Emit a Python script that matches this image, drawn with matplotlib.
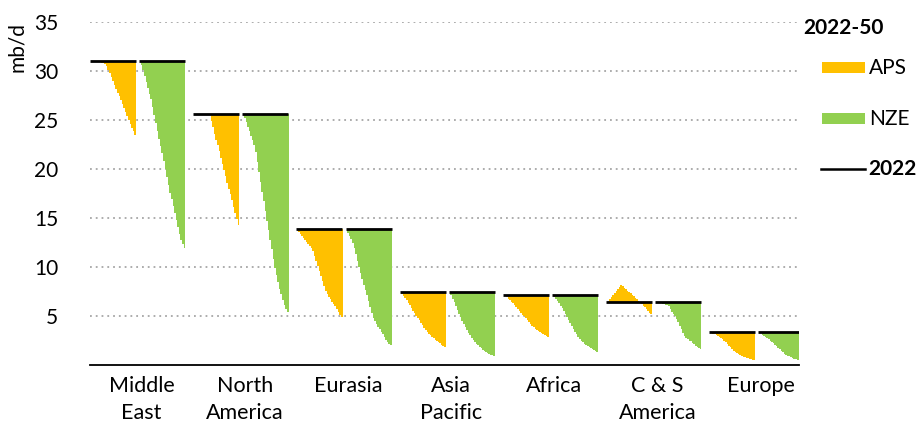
import numpy as np
import matplotlib
matplotlib.use('Agg')
import matplotlib.pyplot as plt
from matplotlib.patches import Rectangle
from matplotlib.lines import Line2D

plt.rcParams['font.family'] = ['Lato', 'DejaVu Sans']

# regions and 2022 production level (mb/d)
regions = ['Middle\nEast', 'North\nAmerica', 'Eurasia', 'Asia\nPacific', 'Africa', 'C & S\nAmerica', 'Europe']
level_2022 = [31.0, 25.6, 13.85, 7.45, 7.1, 6.4, 3.33]

# yearly production 2022-2050, APS
aps = [
    [31.0, 31.0, 30.98, 30.95, 30.92, 30.9, 30.88, 30.86, 30.82, 30.7, 30.5, 30.15, 29.8, 29.4, 29.0,
     28.6, 28.2, 27.8, 27.4, 27.0, 26.6, 26.2, 25.8, 25.4, 25.0, 24.6, 24.2, 23.85, 23.5],
    [25.6, 25.6, 25.6, 25.6, 25.6, 25.6, 25.6, 25.6, 25.6, 25.55, 25.5, 24.9, 24.3, 23.6, 23.0,
     22.4, 21.8, 21.1, 20.5, 19.9, 19.3, 18.6, 18.0, 17.4, 16.8, 16.1, 15.5, 14.9, 14.3],
    [13.85, 13.6, 13.4, 13.2, 13.0, 12.8, 12.55, 12.35, 12.1, 11.9, 11.6, 11.1, 10.6, 10.1, 9.6,
     9.1, 8.6, 8.1, 7.6, 7.2, 6.9, 6.7, 6.4, 6.2, 6.0, 5.7, 5.4, 5.15, 4.9],
    [7.45, 7.25, 7.0, 6.8, 6.6, 6.35, 6.1, 5.85, 5.55, 5.3, 5.05, 4.8, 4.55, 4.3, 4.05,
     3.8, 3.6, 3.4, 3.2, 3.05, 2.9, 2.75, 2.6, 2.45, 2.3, 2.2, 2.05, 1.95, 1.85],
    [7.1, 7.0, 6.9, 6.75, 6.6, 6.45, 6.3, 6.1, 5.95, 5.75, 5.55, 5.35, 5.15, 4.95, 4.75,
     4.55, 4.35, 4.15, 4.0, 3.85, 3.7, 3.6, 3.5, 3.4, 3.3, 3.2, 3.1, 3.0, 2.9],
    [6.4, 6.55, 6.75, 6.95, 7.15, 7.35, 7.55, 7.75, 7.95, 8.15, 8.05, 7.9, 7.75, 7.6, 7.45,
     7.3, 7.15, 7.0, 6.85, 6.7, 6.55, 6.4, 6.25, 6.05, 5.9, 5.7, 5.55, 5.35, 5.2],
    [3.33, 3.28, 3.2, 3.13, 3.06, 2.98, 2.88, 2.76, 2.62, 2.47, 2.3, 2.13, 1.96, 1.8, 1.63,
     1.47, 1.32, 1.19, 1.1, 1.01, 0.93, 0.86, 0.8, 0.75, 0.7, 0.65, 0.6, 0.55, 0.5],
]

# yearly production 2022-2050, NZE
nze = [
    [31.0, 30.6, 30.1, 29.5, 28.9, 28.3, 27.7, 27.1, 26.3, 25.5, 24.7, 23.9, 23.1, 22.3, 21.6,
     20.8, 20.0, 19.2, 18.4, 17.6, 16.9, 16.2, 15.5, 14.8, 14.1, 13.4, 12.8, 12.3, 11.9],
    [25.6, 25.2, 24.8, 24.3, 23.9, 23.4, 23.0, 22.5, 21.7, 20.7, 19.7, 18.7, 17.7, 16.7, 15.7,
     14.7, 13.8, 12.8, 11.8, 10.8, 9.9, 9.2, 8.5, 7.8, 7.2, 6.6, 6.1, 5.7, 5.4],
    [13.85, 13.5, 13.2, 12.85, 12.4, 11.9, 11.3, 10.6, 10.0, 9.4, 8.8, 8.2, 7.7, 7.1, 6.5,
     5.9, 5.3, 4.8, 4.5, 4.2, 3.9, 3.65, 3.4, 3.15, 2.9, 2.6, 2.35, 2.15, 2.0],
    [7.45, 7.1, 6.75, 6.4, 6.0, 5.6, 5.2, 4.85, 4.5, 4.2, 3.9, 3.6, 3.3, 3.05, 2.8,
     2.55, 2.35, 2.15, 2.0, 1.85, 1.7, 1.55, 1.45, 1.35, 1.25, 1.15, 1.05, 1.0, 0.95],
    [7.1, 6.9, 6.7, 6.5, 6.3, 6.05, 5.8, 5.5, 5.2, 4.85, 4.55, 4.25, 3.95, 3.65, 3.4,
     3.15, 2.9, 2.65, 2.45, 2.3, 2.15, 2.0, 1.9, 1.8, 1.7, 1.6, 1.5, 1.42, 1.35],
    [6.4, 6.37, 6.33, 6.29, 6.25, 6.2, 6.15, 6.08, 5.98, 5.75, 5.45, 5.2, 4.95, 4.65, 4.35,
     4.0, 3.65, 3.3, 2.95, 2.8, 2.65, 2.5, 2.4, 2.25, 2.1, 1.95, 1.85, 1.75, 1.65],
    [3.33, 3.22, 3.1, 2.98, 2.86, 2.74, 2.62, 2.5, 2.37, 2.23, 2.08, 1.92, 1.76, 1.6, 1.45,
     1.3, 1.16, 1.05, 0.95, 0.87, 0.8, 0.73, 0.66, 0.6, 0.55, 0.5, 0.45, 0.4, 0.36],
]

C_APS = '#FFC000'
C_NZE = '#92D050'

W, H = 917, 428
fig = plt.figure(figsize=(W / 100, H / 100), dpi=100)
ax = fig.add_axes([90 / W, 63 / H, 709.3 / W, 343 / H])

n_years = len(aps[0])
gap = 2
block = 2 * n_years + gap + 5

for i in range(len(regions)):
    x0 = i * block
    for k, (series, col) in enumerate([(aps[i], C_APS), (nze[i], C_NZE)]):
        start = x0 + k * (n_years + gap)
        xs = np.arange(start, start + n_years)
        vals = np.array(series)
        ax.bar(xs, level_2022[i] - vals, bottom=vals, width=1.08, color=col,
               linewidth=0, zorder=2)
        ax.hlines(level_2022[i], start - 0.5, start + n_years - 0.5, color='black',
                  linewidth=2, zorder=3)

ax.set_xlim(-0.5, 446.2)
ax.set_ylim(0, 35)
ax.set_yticks(range(5, 36, 5))
ax.yaxis.grid(True, color='#A6A6A6', linestyle=(0, (1, 2.2)), linewidth=1.3)
ax.set_axisbelow(True)
ax.set_xticks([i * block + 32 for i in range(len(regions))])
ax.set_xticklabels(regions, linespacing=1.4)
ax.tick_params(axis='both', length=0, colors='#000000')
ax.tick_params(axis='x', pad=8, labelsize=15.5)
ax.tick_params(axis='y', pad=23, labelsize=15)
for s in ['top', 'right', 'left']:
    ax.spines[s].set_visible(False)
ax.spines['bottom'].set_linewidth(1.3)
ax.set_ylabel('mb/d', fontsize=15, loc='top', labelpad=5)


def fx(px):
    return px / W


def fy(py):
    return 1 - py / H


fs_leg = 15
fig.text(fx(803), fy(28), '2022-50', fontsize=fs_leg, fontweight='bold', va='center', ha='left')
fig.add_artist(Rectangle((fx(822), fy(73)), fx(43), 11 / H, transform=fig.transFigure,
                         facecolor=C_APS, edgecolor='none'))
fig.text(fx(869), fy(68), 'APS', fontsize=fs_leg, va='center', ha='left')
fig.add_artist(Rectangle((fx(822), fy(124)), fx(43), 11 / H, transform=fig.transFigure,
                         facecolor=C_NZE, edgecolor='none'))
fig.text(fx(869), fy(119), 'NZE', fontsize=fs_leg, va='center', ha='left')
fig.add_artist(Line2D([fx(821), fx(865)], [fy(169), fy(169)], transform=fig.transFigure,
                      color='black', linewidth=1.8))
fig.text(fx(868), fy(169), '2022', fontsize=fs_leg, fontweight='bold', va='center', ha='left')

fig.savefig('out.png', dpi=100)
